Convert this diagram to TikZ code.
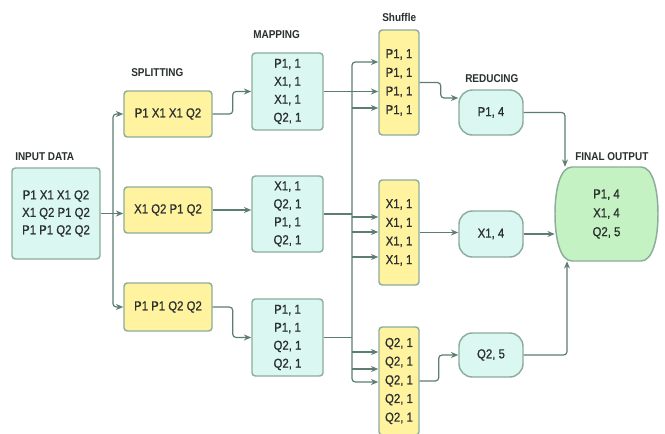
\documentclass[tikz,border=0pt]{standalone}
\usepackage{fontspec}
\setmainfont{Liberation Sans}[FakeStretch=0.88]
\newfontfamily\medfam{Liberation Sans}[FakeStretch=0.88, FakeBold=0.8]
\usetikzlibrary{arrows.meta}
\newlength\upx \setlength\upx{0.75pt}
\definecolor{cyanc}{HTML}{DBF7F2}
\definecolor{yelc}{HTML}{FFF3A0}
\definecolor{grnc}{HTML}{C5F2C2}
\definecolor{bordc}{HTML}{8CAD9C}
\definecolor{linec}{HTML}{5C7D73}
\definecolor{txtc}{HTML}{2A2F2F}
\newcommand\bxfont{\medfam\fontsize{9.7}{13.5}\selectfont}
\newcommand\lbfont{\fontsize{8.5}{10}\selectfont\bfseries}
\begin{document}
\begin{tikzpicture}[x=0.75pt,y=-0.75pt,
 box/.style={draw=bordc, line width=1.1pt, rounded corners=2.5pt, align=center, inner sep=0pt, font=\bxfont, text=txtc},
 cyanbox/.style={box, fill=cyanc},
 yelbox/.style={box, fill=yelc},
 redbox/.style={box, fill=cyanc, rounded corners=10pt},
 lbl/.style={anchor=west, font=\lbfont, text=txtc, inner sep=0pt},
 arr/.style={draw=linec, line width=0.9pt, -{Stealth[length=5.5pt,width=4.5pt]}, rounded corners=2.5pt},
 ln/.style={draw=linec, line width=0.9pt, rounded corners=2.5pt}]
\useasboundingbox (0,0) rectangle (665,433);
\fill[white] (0,0) rectangle (665,433);

% labels
\node[lbl] (linput) at (15,157) {INPUT DATA};
\node[lbl] (lsplit) at (131,73) {SPLITTING};
\node[lbl] (lmap) at (253,35) {MAPPING};
\node[lbl] (lshuf) at (382,17) {Shuffle};
\node[lbl] (lred) at (465,79) {REDUCING};
\node[lbl] (lfin) at (575,157) {FINAL OUTPUT};

% input
\node[cyanbox, minimum width=88\upx, minimum height=91\upx, font=\medfam\fontsize{9.7}{13.1}\selectfont] (input) at (56,213.5) {P1 X1 X1 Q2\\X1 Q2 P1 Q2\\P1 P1 Q2 Q2};

% splitting
\node[yelbox, minimum width=88\upx, minimum height=46\upx] (split1) at (168,114) {P1 X1 X1 Q2};
\node[yelbox, minimum width=88\upx, minimum height=46\upx] (split2) at (168,210) {X1 Q2 P1 Q2};
\node[yelbox, minimum width=88\upx, minimum height=48\upx] (split3) at (168,307) {P1 P1 Q2 Q2};

% mapping
\node[cyanbox, minimum width=71\upx, minimum height=77\upx] (map1) at (287.5,91.5) {P1, 1\\X1, 1\\X1, 1\\Q2, 1};
\node[cyanbox, minimum width=71\upx, minimum height=76\upx] (map2) at (287.5,214) {X1, 1\\Q2, 1\\P1, 1\\Q2, 1};
\node[cyanbox, minimum width=71\upx, minimum height=77\upx] (map3) at (287.5,337.5) {P1, 1\\P1, 1\\Q2, 1\\Q2, 1};

% shuffle
\node[yelbox, minimum width=40\upx, minimum height=105\upx, font=\medfam\fontsize{9.7}{14}\selectfont] (shuf1) at (399,82.5) {P1, 1\\P1, 1\\P1, 1\\P1, 1};
\node[yelbox, minimum width=40\upx, minimum height=105\upx, font=\medfam\fontsize{9.7}{14}\selectfont] (shuf2) at (399,232.5) {X1, 1\\X1, 1\\X1, 1\\X1, 1};
\node[yelbox, minimum width=40\upx, minimum height=108\upx, font=\medfam\fontsize{9.7}{14}\selectfont] (shuf3) at (399,381) {Q2, 1\\Q2, 1\\Q2, 1\\Q2, 1\\Q2, 1};

% reducing
\node[redbox, minimum width=64\upx, minimum height=45\upx] (red1) at (491,112.5) {P1, 4};
\node[redbox, minimum width=64\upx, minimum height=46\upx] (red2) at (491,234) {X1, 4};
\node[redbox, minimum width=64\upx, minimum height=44\upx] (red3) at (491,355) {Q2, 5};

% final output
\draw[draw=bordc, line width=1.1pt, fill=grnc]
  (572,167) -- (641,167) .. controls (653,167) and (658,190) .. (658,214)
  .. controls (658,238) and (653,261) .. (641,261) -- (572,261)
  .. controls (560,261) and (555,238) .. (555,214)
  .. controls (555,190) and (560,167) .. (572,167) -- cycle;
\node[align=center, inner sep=0pt, minimum width=103\upx, minimum height=94\upx, font=\medfam\fontsize{9.7}{14.2}\selectfont, text=txtc] (final) at (606.5,214) {P1, 4\\X1, 4\\Q2, 5};

% input -> splitting
\coordinate (bx) at (113,0);
\draw[arr] (input.east) -- (input.east -| split2.west);
\draw[arr] (input.east -| bx) |- (split1.west);
\draw[arr] (input.east -| bx) |- (split3.west);

% splitting -> mapping
\draw[arr] (split1.east) -- ++(20,0) |- (map1.west);
\draw[arr] (split2.east) -- (split2.east -| map2.west);
\draw[arr] (split3.east) -- ++(20,0) |- (map3.west);

% mapping -> shuffle bus
\coordinate (bus) at (352,0);
\coordinate (a1) at (0,62);
\coordinate (a3) at (0,108);
\coordinate (b1) at (0,217);
\coordinate (b2) at (0,232);
\coordinate (b3) at (0,257);
\coordinate (c1) at (0,352);
\coordinate (c2) at (0,369);
\coordinate (c3) at (0,382);
\draw[arr] (map1.east) -- (map1.east -| shuf1.west);
\draw[ln] (map2.east) -- (map2.east -| bus);
\draw[ln] (map3.east) -- (map3.east -| bus);
\draw[arr] (bus |- map2.east) |- (a1 -| shuf1.west);
\draw[arr] (bus |- map2.east) |- (c3 -| shuf3.west);
\draw[arr] (bus |- a3) -- (a3 -| shuf1.west);
\draw[arr] (bus |- b1) -- (b1 -| shuf2.west);
\draw[arr] (bus |- b2) -- (b2 -| shuf2.west);
\draw[arr] (bus |- b3) -- (b3 -| shuf2.west);
\draw[arr] (bus |- c1) -- (c1 -| shuf3.west);
\draw[arr] (bus |- c2) -- (c2 -| shuf3.west);

% shuffle -> reducing
\coordinate (r1in) at (0,98);
\draw[arr] (shuf1.east) -- ++(21,0) |- (red1.west |- r1in);
\draw[arr] (shuf2.east) -- (shuf2.east -| red2.west);
\draw[arr] (shuf3.east) -- ++(19,0) |- (red3.west);

% reducing -> final
\coordinate (f1) at (565,0);
\coordinate (f2) at (567,0);
\draw[arr] (red1.east) -| (f1 |- final.north);
\draw[arr] (red2.east) -- (red2.east -| final.west);
\draw[arr] (red3.east) -| (f2 |- final.south);
\end{tikzpicture}
\end{document}
